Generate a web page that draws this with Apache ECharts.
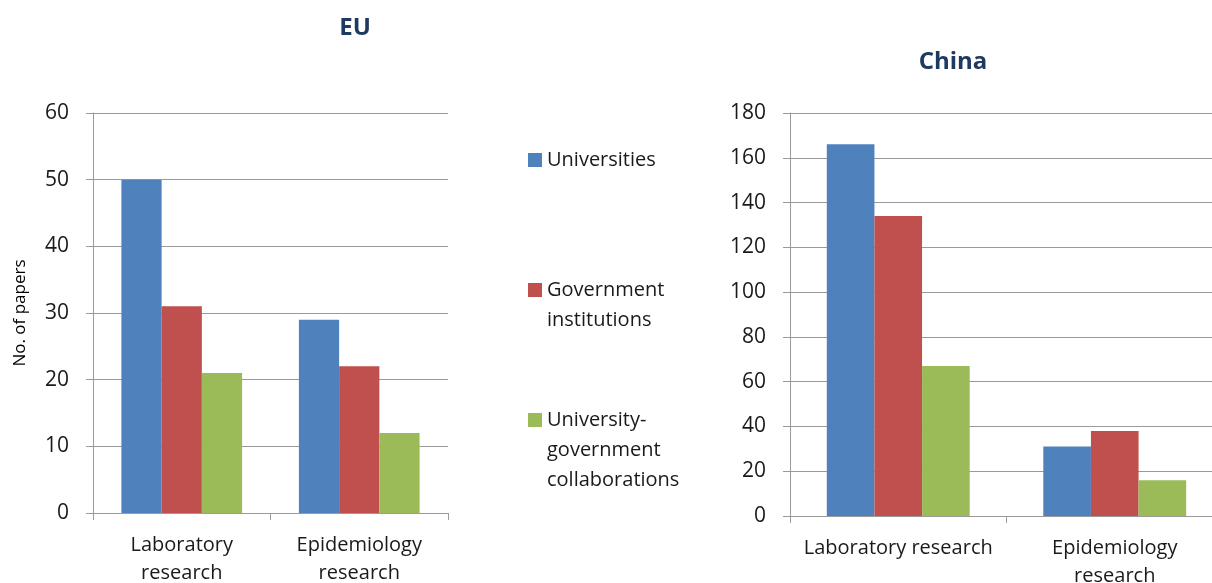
<!DOCTYPE html>
<html>
<head>
<meta charset="utf-8">
<script src="https://cdn.jsdelivr.net/npm/echarts@6/dist/echarts.min.js"></script>
<style>
html,body{margin:0;padding:0;background:#fff;}
#chart{width:1212px;height:583px;}
</style>
</head>
<body>
<div id="chart"></div>
<script>
const categoriesEU = ['Laboratory\nresearch', 'Epidemiology\nresearch'];
const categoriesCN = ['Laboratory research', 'Epidemiology\nresearch'];
const seriesNames = ['Universities', 'Government institutions', 'University-government collaborations'];
const legendLabels = ['Universities', 'Government\ninstitutions', 'University-\ngovernment\ncollaborations'];
const euUniversities = [50, 29];
const euGovernment = [31, 22];
const euCollab = [21, 12];
const cnUniversities = [166, 31];
const cnGovernment = [134, 38];
const cnCollab = [67, 16];
const euTicks = [0, 10, 20, 30, 40, 50, 60];
const cnTicks = [0, 20, 40, 60, 80, 100, 120, 140, 160, 180];

const colors = ['#4F81BD', '#C0504D', '#9BBB59'];
const FONT = 'Open Sans';
const txt = '#1a1a1a';
const gridCol = '#9a9a9a';

const chart = echarts.init(document.getElementById('chart'), null, {renderer: 'canvas'});

function xAx(idx, cats) {
  return {
    type: 'category', gridIndex: idx, data: cats,
    axisLine: {lineStyle: {color: gridCol, width: 1}},
    axisTick: {show: true, length: 7, alignWithLabel: false, lineStyle: {color: gridCol}},
    axisLabel: {color: txt, fontFamily: FONT, fontSize: 20, lineHeight: 28, margin: 18, interval: 0}
  };
}
function yAx(idx, ticks) {
  return {
    type: 'value', gridIndex: idx, min: ticks[0], max: ticks[ticks.length - 1],
    interval: ticks[1] - ticks[0],
    axisLine: {show: true, lineStyle: {color: gridCol}},
    axisTick: {show: true, length: 7, lineStyle: {color: gridCol}},
    splitLine: {show: true, lineStyle: {color: gridCol, width: 1}},
    axisLabel: {color: txt, fontFamily: FONT, fontSize: 21, margin: 24}
  };
}

const euData = [euUniversities, euGovernment, euCollab];
const cnData = [cnUniversities, cnGovernment, cnCollab];
const series = [];
seriesNames.forEach((n, i) => {
  series.push({name: n, type: 'bar', xAxisIndex: 0, yAxisIndex: 0, data: euData[i],
    itemStyle: {color: colors[i]}, barGap: '0%', barCategoryGap: '32%'});
});
seriesNames.forEach((n, i) => {
  series.push({name: n, type: 'bar', xAxisIndex: 1, yAxisIndex: 1, data: cnData[i],
    itemStyle: {color: colors[i]}, barGap: '0%', barCategoryGap: '34%'});
});

const legendTops = [145, 245, 345];
const legends = seriesNames.map((n, i) => ({
  show: true, orient: 'vertical', left: 528, top: legendTops[i], padding: 0,
  itemWidth: 14, itemHeight: 14, itemGap: 0, icon: 'rect',
  selectedMode: false,
  data: [n],
  formatter: () => '\n'.repeat(i) + legendLabels[i],
  textStyle: {color: txt, fontFamily: FONT, fontSize: 20, lineHeight: 30}
}));

chart.setOption({
  animation: false,
  backgroundColor: '#ffffff',
  title: [
    {text: 'EU', left: 350, top: 11, textAlign: 'center',
      textStyle: {color: '#1F3A60', fontFamily: FONT, fontWeight: 'bold', fontSize: 24}},
    {text: 'China', left: 948, top: 45, textAlign: 'center',
      textStyle: {color: '#1F3A60', fontFamily: FONT, fontWeight: 'bold', fontSize: 24}}
  ],
  legend: legends,
  grid: [
    {left: 93, top: 113, width: 355, height: 400, containLabel: false, outerBoundsMode: 'none'},
    {left: 790, top: 113, width: 433, height: 403, containLabel: false, outerBoundsMode: 'none'}
  ],
  xAxis: [xAx(0, categoriesEU), xAx(1, categoriesCN)],
  yAxis: [
    Object.assign(yAx(0, euTicks), {name: 'No. of papers', nameLocation: 'middle', nameGap: 64,
      nameTextStyle: {color: '#000', fontFamily: FONT, fontSize: 17}}),
    yAx(1, cnTicks)
  ],
  series: series
});
</script>
</body>
</html>
